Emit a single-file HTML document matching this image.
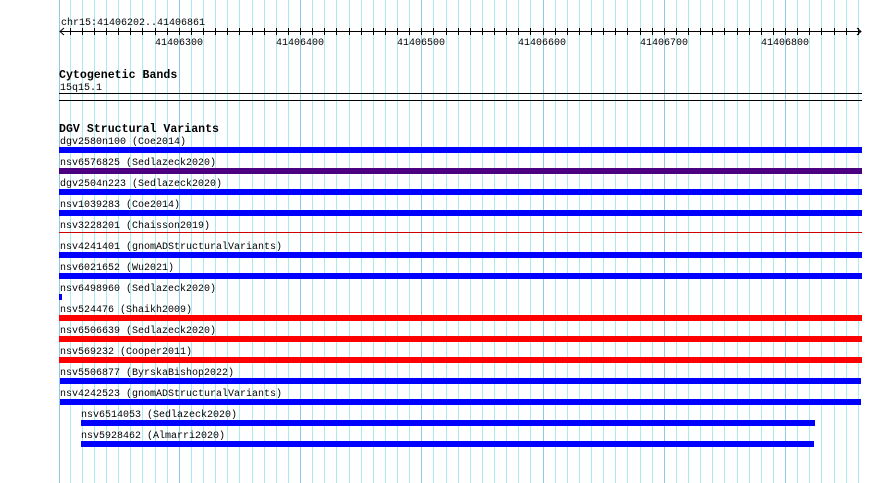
<!DOCTYPE html>
<html><head><meta charset="utf-8"><style>
html,body{margin:0;padding:0;background:#fff;}
svg{display:block;}
text{font-family:"Liberation Mono","DejaVu Sans Mono",monospace;font-size:10px;fill:#000;}
.h{font-weight:bold;font-size:11.6px;}
</style></head><body>
<svg width="890" height="483" viewBox="0 0 890 483" xmlns="http://www.w3.org/2000/svg">
<rect width="890" height="483" fill="#fff"/>
<path stroke="#a8ecf0" stroke-width="1" fill="none" d="M70.5 0V483M82.5 0V483M94.5 0V483M106.5 0V483M118.5 0V483M130.5 0V483M142.5 0V483M155.5 0V483M167.5 0V483M191.5 0V483M203.5 0V483M215.5 0V483M227.5 0V483M239.5 0V483M252.5 0V483M264.5 0V483M276.5 0V483M288.5 0V483M312.5 0V483M324.5 0V483M336.5 0V483M349.5 0V483M361.5 0V483M373.5 0V483M385.5 0V483M397.5 0V483M409.5 0V483M433.5 0V483M446.5 0V483M458.5 0V483M470.5 0V483M482.5 0V483M494.5 0V483M506.5 0V483M518.5 0V483M530.5 0V483M555.5 0V483M567.5 0V483M579.5 0V483M591.5 0V483M603.5 0V483M615.5 0V483M627.5 0V483M640.5 0V483M652.5 0V483M676.5 0V483M688.5 0V483M700.5 0V483M712.5 0V483M724.5 0V483M737.5 0V483M749.5 0V483M761.5 0V483M773.5 0V483M797.5 0V483M809.5 0V483M821.5 0V483M834.5 0V483M846.5 0V483M858.5 0V483"/>
<path stroke="#8ccbe6" stroke-width="1" fill="none" d="M59.5 0V483M179.5 0V483M300.5 0V483M421.5 0V483M543.5 0V483M664.5 0V483M785.5 0V483"/>
<path stroke="#000" stroke-width="1" fill="none" d="M70.5 28V35M82.5 28V35M94.5 28V35M106.5 28V35M118.5 28V35M130.5 28V35M142.5 28V35M155.5 28V35M167.5 28V35M179.5 28V35M191.5 28V35M203.5 28V35M215.5 28V35M227.5 28V35M239.5 28V35M252.5 28V35M264.5 28V35M276.5 28V35M288.5 28V35M300.5 28V35M312.5 28V35M324.5 28V35M336.5 28V35M349.5 28V35M361.5 28V35M373.5 28V35M385.5 28V35M397.5 28V35M409.5 28V35M421.5 28V35M433.5 28V35M446.5 28V35M458.5 28V35M470.5 28V35M482.5 28V35M494.5 28V35M506.5 28V35M518.5 28V35M530.5 28V35M543.5 28V35M555.5 28V35M567.5 28V35M579.5 28V35M591.5 28V35M603.5 28V35M615.5 28V35M627.5 28V35M640.5 28V35M652.5 28V35M664.5 28V35M676.5 28V35M688.5 28V35M700.5 28V35M712.5 28V35M724.5 28V35M737.5 28V35M749.5 28V35M761.5 28V35M773.5 28V35M785.5 28V35M797.5 28V35M809.5 28V35M821.5 28V35M834.5 28V35M846.5 28V35M858.5 28V35"/>
<text x="61" y="25">chr15:41406202..41406861</text>
<line x1="60" y1="31.5" x2="861" y2="31.5" stroke="#000"/>
<polyline points="64,28 60,31.5 64,35" fill="none" stroke="#000"/>
<polyline points="857,28 861,31.5 857,35" fill="none" stroke="#000"/>
<text x="155" y="45">41406300</text>
<text x="276" y="45">41406400</text>
<text x="397" y="45">41406500</text>
<text x="518" y="45">41406600</text>
<text x="640" y="45">41406700</text>
<text x="761" y="45">41406800</text>
<text class="h" x="59" y="78">Cytogenetic Bands</text>
<text x="60" y="90">15q15.1</text>
<line x1="59" y1="93.5" x2="862" y2="93.5" stroke="#000"/>
<line x1="59" y1="100.5" x2="862" y2="100.5" stroke="#000"/>
<text class="h" x="59" y="132">DGV Structural Variants</text>
<text x="60" y="144">dgv2580n100 (Coe2014)</text>
<rect x="59" y="147" width="803" height="6" fill="#0000ff"/>
<text x="60" y="165">nsv6576825 (Sedlazeck2020)</text>
<rect x="59" y="168" width="803" height="6" fill="#4b0082"/>
<text x="60" y="186">dgv2504n223 (Sedlazeck2020)</text>
<rect x="59" y="189" width="803" height="6" fill="#0000ff"/>
<text x="60" y="207">nsv1039283 (Coe2014)</text>
<rect x="59" y="210" width="803" height="6" fill="#0000ff"/>
<text x="60" y="228">nsv3228201 (Chaisson2019)</text>
<rect x="59" y="232" width="803" height="1" fill="#cc0000"/>
<text x="60" y="249">nsv4241401 (gnomADStructuralVariants)</text>
<rect x="59" y="252" width="803" height="6" fill="#0000ff"/>
<text x="60" y="270">nsv6021652 (Wu2021)</text>
<rect x="59" y="273" width="803" height="6" fill="#0000ff"/>
<text x="60" y="291">nsv6498960 (Sedlazeck2020)</text>
<rect x="59" y="294" width="3" height="6" fill="#0000ff"/>
<text x="60" y="312">nsv524476 (Shaikh2009)</text>
<rect x="59" y="315" width="803" height="6" fill="#ff0000"/>
<text x="60" y="333">nsv6506639 (Sedlazeck2020)</text>
<rect x="59" y="336" width="803" height="6" fill="#ff0000"/>
<text x="60" y="354">nsv569232 (Cooper2011)</text>
<rect x="59" y="357" width="803" height="6" fill="#ff0000"/>
<text x="60" y="375">nsv5506877 (ByrskaBishop2022)</text>
<rect x="60" y="378" width="801" height="6" fill="#0000ff"/>
<text x="60" y="396">nsv4242523 (gnomADStructuralVariants)</text>
<rect x="60" y="399" width="801" height="6" fill="#0000ff"/>
<text x="81" y="417">nsv6514053 (Sedlazeck2020)</text>
<rect x="81" y="420" width="734" height="6" fill="#0000ff"/>
<text x="81" y="438">nsv5928462 (Almarri2020)</text>
<rect x="81" y="441" width="733" height="6" fill="#0000ff"/>
</svg>
</body></html>
